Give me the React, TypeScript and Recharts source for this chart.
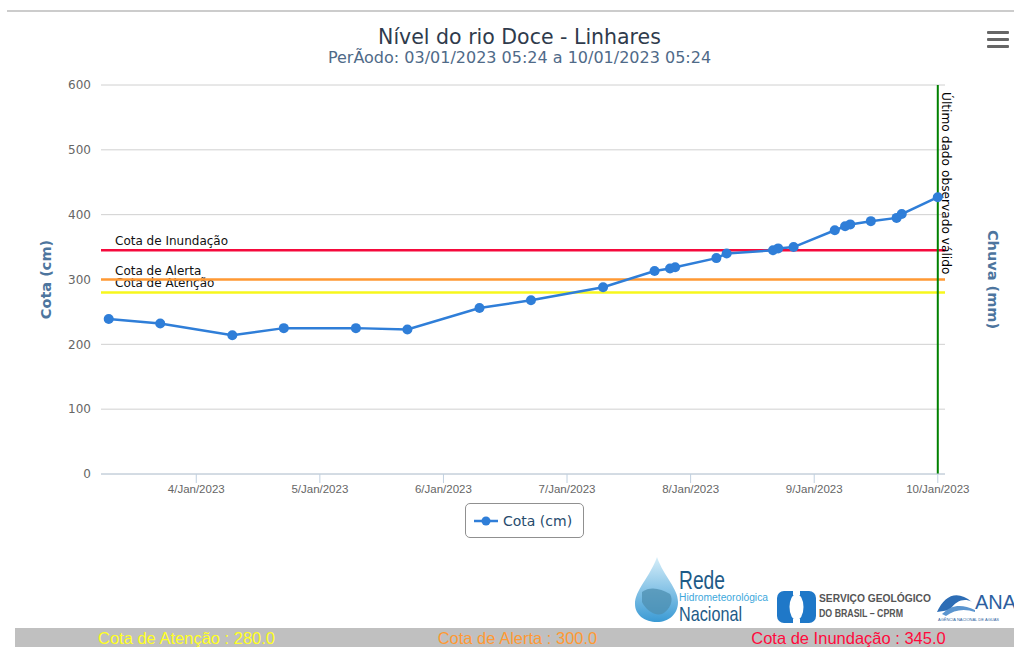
import { LineChart, Line, XAxis, YAxis, CartesianGrid, ReferenceLine } from "recharts";

// hours counted from 03/Jan/2023 00:00
const hours = [7, 17, 31, 41, 55, 65, 79, 89, 103, 113, 116, 117, 125, 127, 136, 137, 140, 148, 150, 151, 155, 160, 161, 168];
const cotaValues = [239, 232, 214, 225, 225, 223, 256, 268, 288, 313, 317, 319, 333, 340, 345, 348, 350, 376, 382, 385, 390, 395, 401, 427];

const dayTicks = [24, 48, 72, 96, 120, 144, 168];
const dayLabels = ["4/Jan/2023", "5/Jan/2023", "6/Jan/2023", "7/Jan/2023", "8/Jan/2023", "9/Jan/2023", "10/Jan/2023"];
const cotaTicks = [0, 100, 200, 300, 400, 500, 600];
const chuvaTicks = [0, 5, 10, 15, 20, 25, 30];

const thresholdNames = ["Cota de Atenção", "Cota de Alerta", "Cota de Inundação"];
const thresholdValues = [280, 300, 345];
const thresholdColors = ["#f7f71c", "#ff9933", "#f50a3c"];
const barTextColors = ["#ffff22", "#ff9933", "#ff0a3c"];

const lastValidHour = 168;

const data = hours.map((h, i) => ({ h, cota: cotaValues[i] }));

const SANS = "'DejaVu Sans', Verdana, sans-serif";
const ARIAL = "'Liberation Sans', Arial, sans-serif";

const LineLabel = ({ viewBox, text }: any) => (
	<text x={viewBox.x + 14} y={viewBox.y - 5} fontSize={12} fontFamily={SANS} fill="#111">
		{text}
	</text>
);

const VerticalLabel = ({ viewBox }: any) => {
	const x = viewBox.x + 4;
	const y = viewBox.y + 7;
	return (
		<text x={x} y={y} transform={`rotate(90 ${x} ${y})`} fontSize={12.2} fontFamily={SANS} fill="#000">
			Último dado observado válido
		</text>
	);
};

const AxisTitle = ({ viewBox, title, posX, rot }: any) => {
	const cy = viewBox.y + viewBox.height / 2;
	return (
		<text
			x={posX}
			y={cy}
			transform={`rotate(${rot} ${posX} ${cy})`}
			textAnchor="middle"
			dominantBaseline="central"
			fontSize={14.5}
			fontWeight="bold"
			fontFamily={SANS}
			fill="#4d759e"
		>
			{title}
		</text>
	);
};

const Logos = () => (
	<svg width={400} height={75} style={{ position: "absolute", left: 620, top: 552 }}>
		<defs>
			<linearGradient id="drop" x1="0" y1="0" x2="0" y2="1">
				<stop offset="0%" stopColor="#d6eef9" />
				<stop offset="100%" stopColor="#3a9ad4" />
			</linearGradient>
		</defs>
		{/* drop of Rede Hidrometeorológica */}
		<path d="M37 5 C30 25 15 38 15 52 C15 63 25 70 37 70 C49 70 58 62 58 50 C58 36 44 25 37 5 Z" fill="url(#drop)" />
		<path d="M22 40 C30 34 40 36 50 42 C54 48 50 58 42 62 C34 64 26 58 22 50 Z" fill="#4d8fb0" opacity={0.75} />
		<text x={59} y={37} fontSize={25} fontFamily={ARIAL} fill="#1e5b87" textLength={46} lengthAdjust="spacingAndGlyphs">Rede</text>
		<text x={59} y={49} fontSize={10} fontFamily={ARIAL} fill="#3da8dc" textLength={89} lengthAdjust="spacingAndGlyphs">Hidrometeorológica</text>
		<text x={59} y={69} fontSize={21} fontFamily={ARIAL} fill="#1e5b87" textLength={63} lengthAdjust="spacingAndGlyphs">Nacional</text>
		{/* CPRM */}
		<rect x={157} y={39} width={39} height={32} rx={7} fill="#1f78c8" />
		<ellipse cx={176.5} cy={55} rx={7} ry={13} fill="#fff" />
		<rect x={173} y={37} width={7} height={6} fill="#fff" />
		<rect x={173} y={67} width={7} height={6} fill="#fff" />
		<text x={199} y={50} fontSize={10} fontWeight="bold" fontFamily={ARIAL} fill="#555" textLength={112} lengthAdjust="spacingAndGlyphs">SERVIÇO GEOLÓGICO</text>
		<text x={199} y={65} fontSize={10} fontWeight="bold" fontFamily={ARIAL} fill="#555" textLength={84} lengthAdjust="spacingAndGlyphs">DO BRASIL – CPRM</text>
		{/* ANA */}
		<path d="M317 60 C325 42 338 38 352 50 C345 46 336 48 330 58 Z" fill="#2d6db5" />
		<path d="M322 62 C332 52 342 52 355 58 L355 60 C344 56 334 58 326 64 Z" fill="#5b95cf" />
		<text x={355} y={57} fontSize={20} fontFamily={ARIAL} fill="#2d5fa0">ANA</text>
		<text x={318} y={69} fontSize={4} fontFamily={ARIAL} fill="#2d5fa0">AGÊNCIA NACIONAL DE ÁGUAS</text>
	</svg>
);

const App = () => {
	return (
		<div style={{ position: "relative", width: 1014, height: 647, fontFamily: SANS, background: "#fff", overflow: "hidden" }}>
			<style>{"body{margin:0}"}</style>
			<div style={{ position: "absolute", left: 7, top: 10, width: 1007, height: 2, background: "#cccccc" }} />

			<div style={{ position: "absolute", left: 0, top: 25, width: 1039, textAlign: "center", fontSize: 20.5, lineHeight: "24px", color: "#2f3b4c" }}>
				Nível do rio Doce - Linhares
			</div>
			<div style={{ position: "absolute", left: 0, top: 48, width: 1039, textAlign: "center", fontSize: 16, lineHeight: "20px", color: "#4f6a88" }}>
				PerÃodo: 03/01/2023 05:24 a 10/01/2023 05:24
			</div>

			{/* export menu */}
			{[31, 38, 45].map((t) => (
				<div key={t} style={{ position: "absolute", left: 987, top: t, width: 22, height: 3, borderRadius: 1, background: "#666" }} />
			))}

			<div style={{ position: "absolute", left: 0, top: 0 }}>
				<LineChart width={1014} height={520} data={data} margin={{ top: 85, right: 0, bottom: 16, left: 0 }}>
					<CartesianGrid yAxisId="left" vertical={false} stroke="#d0d0d0" />
					<XAxis
						dataKey="h"
						type="number"
						domain={[5.5, 169.4]}
						ticks={dayTicks}
						tickFormatter={(v: number) => dayLabels[dayTicks.indexOf(v)]}
						height={30}
						stroke="#C0D0E0"
						tickSize={9}
						tickMargin={2}
						tick={{ fill: "#666", fontSize: 11.5, fontFamily: ARIAL }}
						allowDataOverflow
					/>
					<YAxis
						yAxisId="left"
						type="number"
						domain={[0, 600]}
						ticks={cotaTicks}
						width={101}
						axisLine={false}
						tickLine={false}
						tickSize={0}
						tickMargin={10}
						tick={{ fill: "#666", fontSize: 12, fontFamily: SANS }}
						label={<AxisTitle title="Cota (cm)" posX={46} rot={-90} />}
					/>
					<YAxis
						yAxisId="right"
						orientation="right"
						type="number"
						domain={[0, 30]}
						ticks={chuvaTicks}
						reversed
						width={69}
						axisLine={false}
						tickLine={false}
						tickSize={0}
						tickMargin={12}
						tick={{ fill: "#666", fontSize: 12, fontFamily: SANS, textAnchor: "start" }}
						label={<AxisTitle title="Chuva (mm)" posX={993} rot={90} />}
					/>
					{thresholdValues.map((v, i) => (
						<ReferenceLine
							key={thresholdNames[i]}
							yAxisId="left"
							y={v}
							stroke={thresholdColors[i]}
							strokeWidth={2.5}
							label={<LineLabel text={thresholdNames[i]} />}
						/>
					))}
					<ReferenceLine
						yAxisId="left"
						x={lastValidHour}
						stroke="#008000"
						strokeWidth={2}
						label={<VerticalLabel />}
					/>
					<Line
						yAxisId="left"
						type="linear"
						dataKey="cota"
						stroke="#2f7ed8"
						strokeWidth={2.5}
						dot={{ r: 5, fill: "#2f7ed8", stroke: "#2f7ed8", strokeWidth: 0 }}
						isAnimationActive={false}
					/>
				</LineChart>
			</div>

			{/* legend */}
			<div
				style={{
					position: "absolute",
					left: 465,
					top: 503,
					width: 117,
					height: 33,
					border: "1px solid #909090",
					borderRadius: 5,
					display: "flex",
					alignItems: "center",
				}}
			>
				<svg width={32} height={12} style={{ marginLeft: 8 }}>
					<line x1={0} y1={6} x2={24} y2={6} stroke="#2f7ed8" strokeWidth={2.5} />
					<circle cx={12} cy={6} r={4.5} fill="#2f7ed8" />
				</svg>
				<span style={{ fontSize: 14, color: "#274b6d", marginLeft: -3 }}>Cota (cm)</span>
			</div>

			<Logos />

			{/* threshold bar */}
			<div
				style={{
					position: "absolute",
					left: 15,
					top: 628,
					width: 999,
					height: 19,
					background: "#c0c0c0",
					display: "flex",
					fontFamily: ARIAL,
					fontSize: 16.5,
					lineHeight: "20px",
				}}
			>
				{thresholdNames.map((n, i) => (
					<div key={n} style={{ flex: 1, textAlign: "center", color: barTextColors[i], marginLeft: i === 0 ? 6 : 0 }}>
						{`${n} : ${thresholdValues[i].toFixed(1)}`}
					</div>
				))}
			</div>
		</div>
	);
};

export default App;
